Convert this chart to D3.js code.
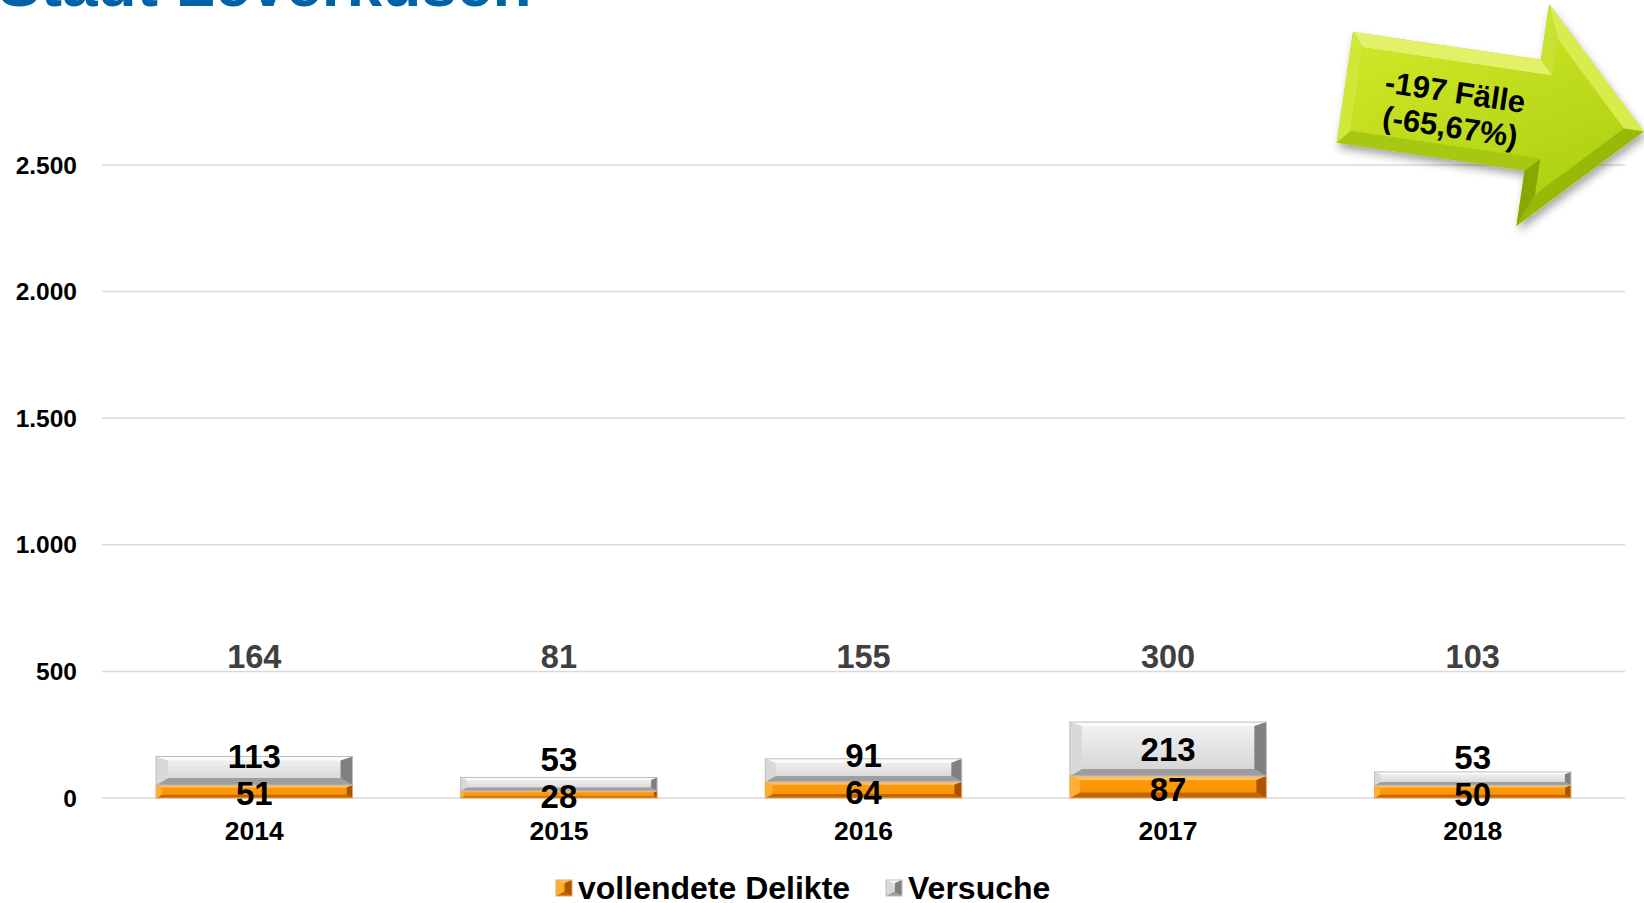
<!DOCTYPE html>
<html>
<head>
<meta charset="utf-8">
<script src="https://cdn.jsdelivr.net/npm/d3@7/dist/d3.min.js"></script>
<style>
  body { margin: 0; background: #fff; }
  svg { display: block; font-family: "Liberation Sans", Arial, sans-serif; }
</style>
</head>
<body>
<svg id="chart" width="1644" height="903"></svg>
<script>
// values
var years = ["2014", "2015", "2016", "2017", "2018"];
var vollendete = [51, 28, 64, 87, 50];
var versuche = [113, 53, 91, 213, 53];
var totals = [164, 81, 155, 300, 103];
var yTicks = [0, 500, 1000, 1500, 2000, 2500];
var seriesNames = ["vollendete Delikte", "Versuche"];
var arrowLines = ["-197 Fälle", "(-65,67%)"];
var title = "Stadt Leverkusen";

var width = 1644, height = 903;
var svg = d3.select("#chart");
var defs = svg.append("defs");

var de = d3.formatLocale({decimal: ",", thousands: ".", grouping: [3], currency: ["", "€"]});
var fmt = de.format(",d");

var x = d3.scaleBand().domain(years).range([102, 1625]).padding(0);
var y = d3.scaleLinear().domain([0, 2500]).range([798, 165]);

// palettes for the bevelled boxes
var palette = {
	orange: {face: ["#FF9C0E", "#FA9200"], top: "#FFC060", left: "#FFB033", right: "#A85400", bottom: "#C26600", stroke: "#E8A860"},
	gray: {face: ["#F4F4F4", "#D2D2D2"], top: "#FBFBFB", left: "#D8D8D8", right: "#808080", bottom: "#9E9E9E", stroke: "#BDBDBD"}
};

Object.keys(palette).forEach(function(k) {
	var gr = defs.append("linearGradient").attr("id", "face_" + k)
		.attr("x1", 0).attr("y1", 0).attr("x2", 0).attr("y2", 1);
	gr.append("stop").attr("offset", "0%").attr("stop-color", palette[k].face[0]);
	gr.append("stop").attr("offset", "100%").attr("stop-color", palette[k].face[1]);
});

function bevelBox(g, bx, by, bw, bh, kind) {
	var p = palette[kind];
	var sx = Math.min(12, bh * 0.45);
	var st = Math.min(4, bh * 0.18);
	var sb = Math.min(7, bh * 0.25);
	var x0 = bx, x1 = bx + bw, y0 = by, y1 = by + bh;
	var ix0 = x0 + sx, ix1 = x1 - sx, iy0 = y0 + st, iy1 = y1 - sb;
	var box = g.append("g");
	function poly(pts, fill) {
		box.append("polygon").attr("points", pts.map(function(q) { return q.join(","); }).join(" ")).attr("fill", fill);
	}
	box.append("rect").attr("x", x0).attr("y", y0).attr("width", bw).attr("height", bh).attr("fill", "url(#face_" + kind + ")");
	poly([[x0, y0], [x1, y0], [ix1, iy0], [ix0, iy0]], p.top);
	poly([[x0, y1], [x1, y1], [ix1, iy1], [ix0, iy1]], p.bottom);
	poly([[x0, y0], [ix0, iy0], [ix0, iy1], [x0, y1]], p.left);
	poly([[x1, y0], [ix1, iy0], [ix1, iy1], [x1, y1]], p.right);
	box.append("rect").attr("x", x0).attr("y", y0).attr("width", bw).attr("height", bh)
		.attr("fill", "none").attr("stroke", p.stroke).attr("stroke-width", 1);
	return box;
}

// title, mostly above the picture edge
svg.append("text")
	.attr("x", -2).attr("y", 6)
	.attr("font-size", 64).attr("font-weight", "bold").attr("fill", "#0063A8")
	.text(title);

// gridlines
svg.append("g").selectAll("line").data(yTicks).enter().append("line")
	.attr("x1", 102).attr("x2", 1625)
	.attr("y1", function(d) { return y(d); }).attr("y2", function(d) { return y(d); })
	.attr("stroke", "#D9D9D9").attr("stroke-width", 1.5);

// y tick labels
svg.append("g").selectAll("text").data(yTicks).enter().append("text")
	.attr("x", 77).attr("y", function(d) { return y(d); })
	.attr("dy", "0.35em").attr("text-anchor", "end")
	.attr("font-size", 24.5).attr("font-weight", "bold").attr("fill", "#000")
	.text(function(d) { return fmt(d); });

// bars
var barW = x.bandwidth() * 0.645;
var bars = svg.append("g");
years.forEach(function(yr, i) {
	var cx = x(yr) + x.bandwidth() / 2;
	var bx = cx - barW / 2;
	var yA = y(vollendete[i]);
	var yB = y(vollendete[i] + versuche[i]);
	bevelBox(bars, bx, yA, barW, y(0) - yA, "orange");
	bevelBox(bars, bx, yB, barW, yA - yB, "gray");
});

// data labels
var labels = svg.append("g").attr("font-weight", "bold").attr("text-anchor", "middle");
years.forEach(function(yr, i) {
	var cx = x(yr) + x.bandwidth() / 2;
	var yA = y(vollendete[i]);
	var yB = y(vollendete[i] + versuche[i]);
	var lowY = (y(0) + yA) / 2 + 2;
	var upY = Math.min((yA + yB) / 2, lowY - 37);
	labels.append("text").attr("x", cx).attr("y", lowY).attr("dy", "0.36em")
		.attr("font-size", 33).attr("fill", "#000").text(vollendete[i]);
	labels.append("text").attr("x", cx).attr("y", upY).attr("dy", "0.36em")
		.attr("font-size", 33).attr("fill", "#000").text(versuche[i]);
	labels.append("text").attr("x", cx).attr("y", 656).attr("dy", "0.36em")
		.attr("font-size", 32.5).attr("fill", "#404040").text(totals[i]);
});

// x axis labels
svg.append("g").selectAll("text").data(years).enter().append("text")
	.attr("x", function(d) { return x(d) + x.bandwidth() / 2; })
	.attr("y", 831).attr("dy", "0.35em").attr("text-anchor", "middle")
	.attr("font-size", 26.5).attr("font-weight", "bold").attr("fill", "#000")
	.text(function(d) { return d; });

// legend
var legend = svg.append("g");
var legendX = [556, 886];
seriesNames.forEach(function(name, i) {
	var lg = legend.append("g");
	bevelBox(lg, legendX[i], 880, 16, 16, i === 0 ? "orange" : "gray");
	lg.append("text").attr("x", legendX[i] + 22).attr("y", 887).attr("dy", "0.36em")
		.attr("font-size", 32).attr("font-weight", "bold").attr("fill", "#000").text(name);
});

// green arrow
var shadow = defs.append("filter").attr("id", "shadow").attr("x", "-20%").attr("y", "-20%").attr("width", "150%").attr("height", "150%");
shadow.append("feDropShadow").attr("dx", 3).attr("dy", 5).attr("stdDeviation", 4)
	.attr("flood-color", "#000").attr("flood-opacity", 0.35);
var ag = defs.append("linearGradient").attr("id", "arrowFace")
	.attr("x1", 0).attr("y1", 0).attr("x2", 1).attr("y2", 1);
ag.append("stop").attr("offset", "0%").attr("stop-color", "#D4EA28");
ag.append("stop").attr("offset", "100%").attr("stop-color", "#A9CE10");

var outer = [[0, 0], [190, 0], [190, -56], [302, 56], [190, 168], [190, 112], [0, 112]];
var inner = [[12, 14], [204, 14], [204, -22], [282, 56], [204, 134], [204, 98], [12, 98]];
var facetFill = ["#E2F168", "#C9E232", "#D8EC4C", "#97BA08", "#86A800", "#A6C812", "#D0E838"];

var arrow = svg.append("g").attr("transform", "translate(1353,32) rotate(8.4)");
var arrowBody = arrow.append("g").attr("filter", "url(#shadow)");
arrowBody.append("polygon").attr("points", outer.map(function(q) { return q.join(","); }).join(" "))
	.attr("fill", "#A8CC10");
outer.forEach(function(pt, i) {
	var j = (i + 1) % outer.length;
	arrow.append("polygon")
		.attr("points", [outer[i], outer[j], inner[j], inner[i]].map(function(q) { return q.join(","); }).join(" "))
		.attr("fill", facetFill[i]);
});
arrow.append("polygon").attr("points", inner.map(function(q) { return q.join(","); }).join(" "))
	.attr("fill", "url(#arrowFace)");
arrow.selectAll("text.al").data(arrowLines).enter().append("text")
	.attr("class", "al")
	.attr("x", 110).attr("y", function(d, i) { return 44 + i * 35; })
	.attr("dy", "0.36em").attr("text-anchor", "middle")
	.attr("font-size", 31).attr("font-weight", "bold").attr("fill", "#000")
	.text(function(d) { return d; });
</script>
</body>
</html>
